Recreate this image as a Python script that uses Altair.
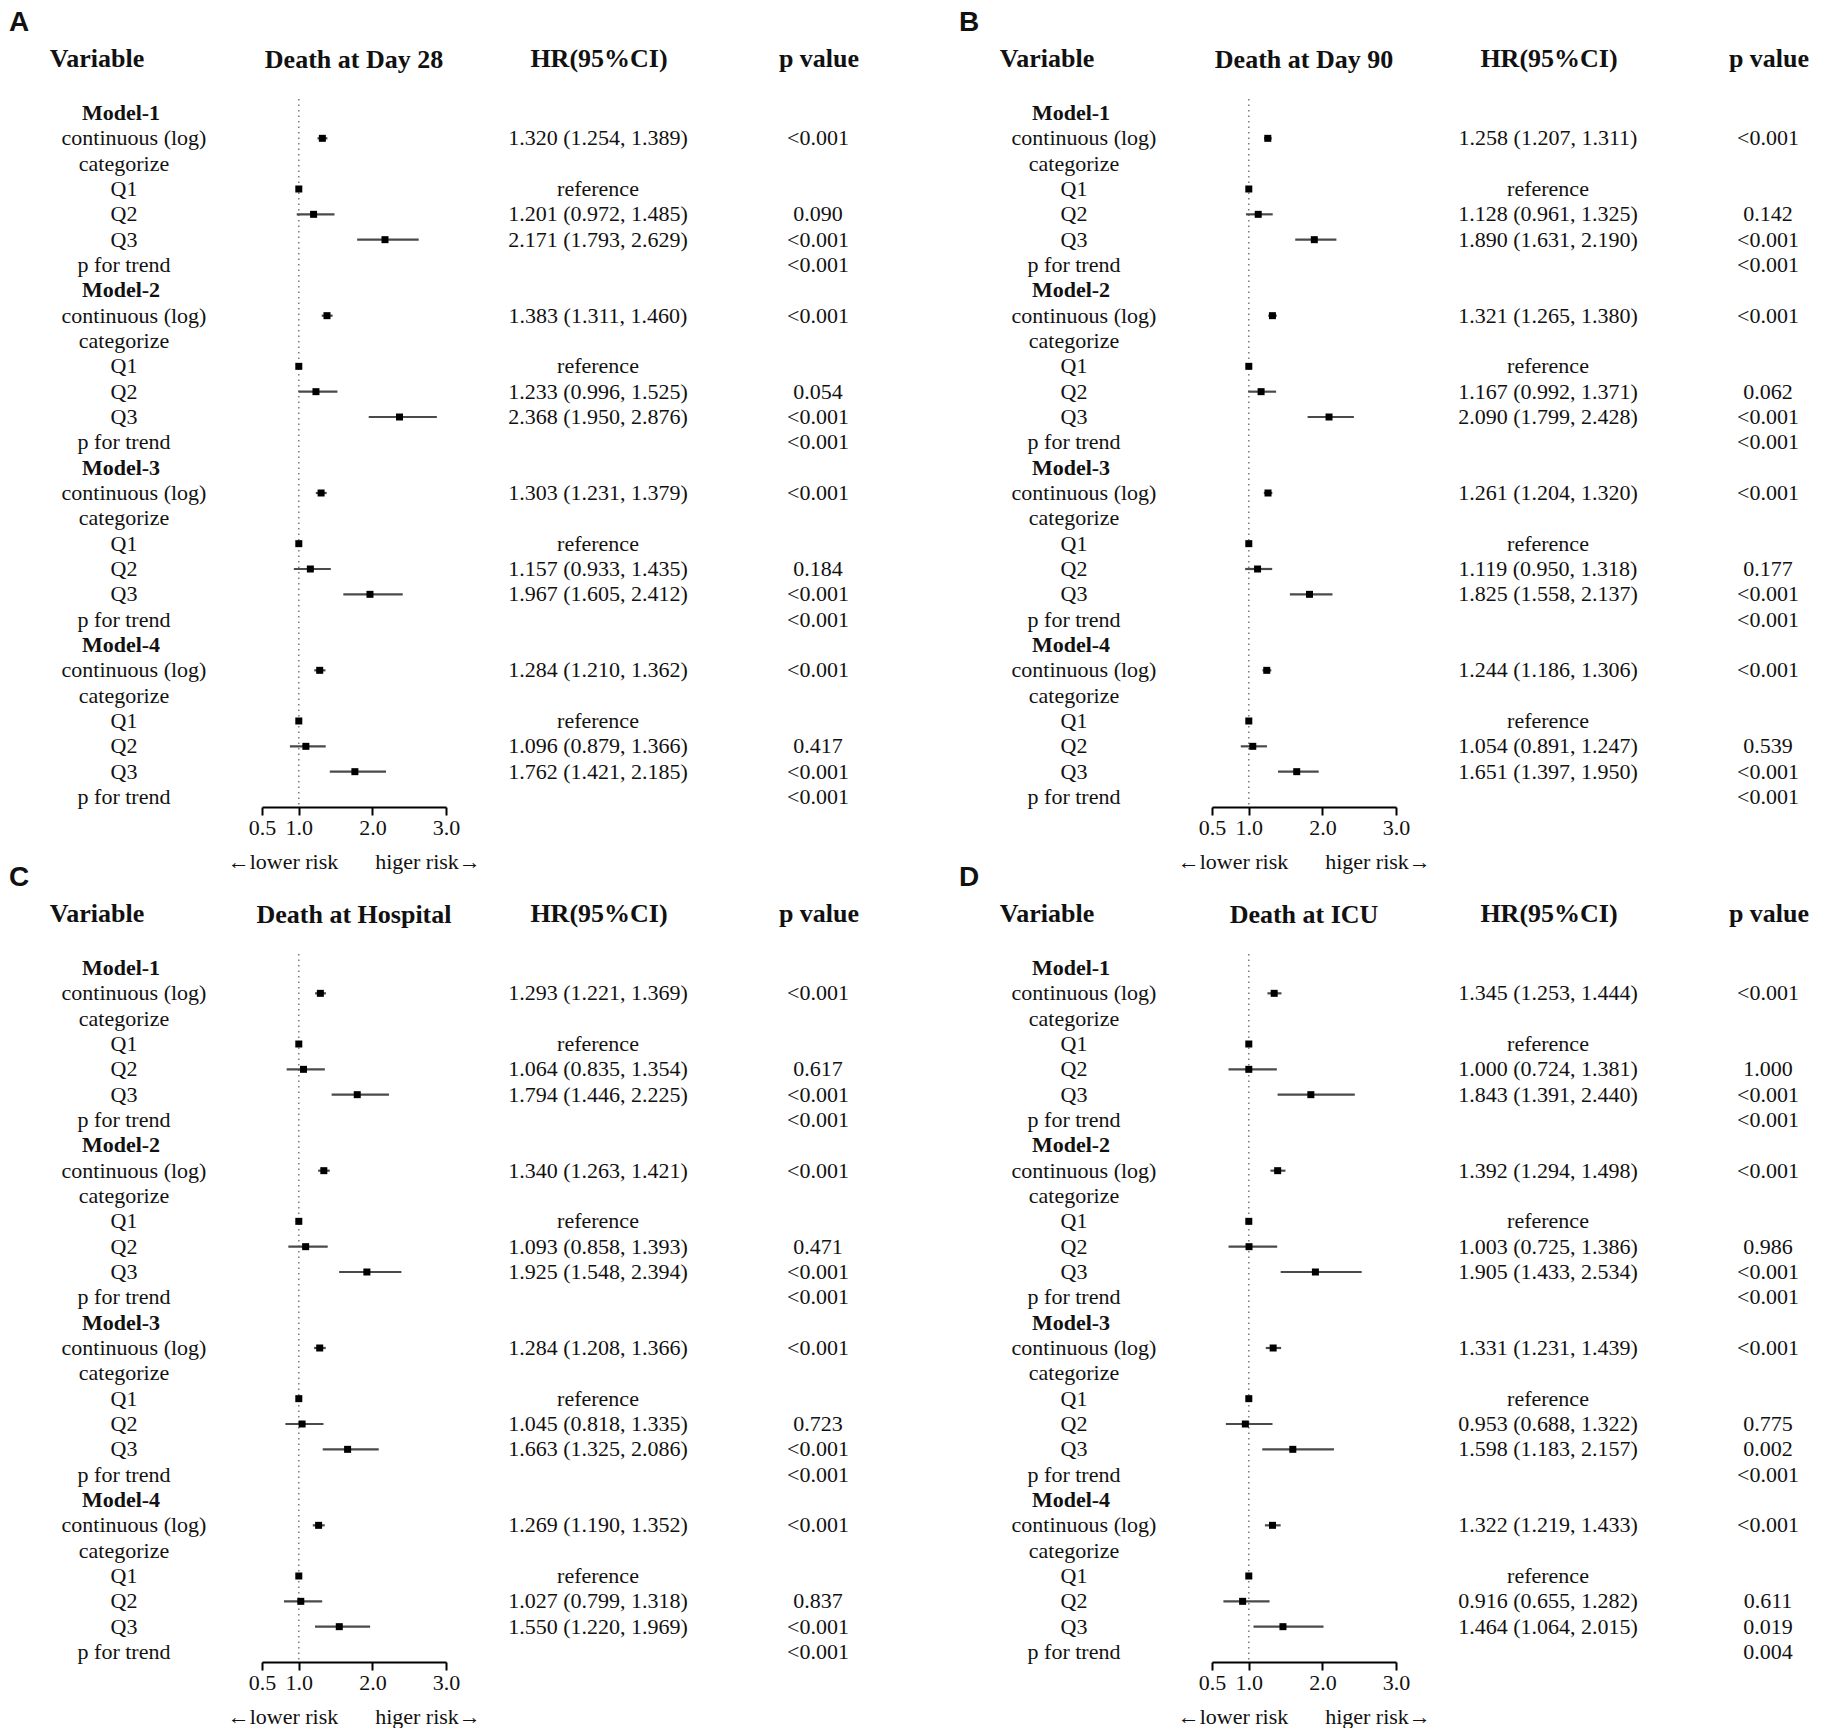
import altair as alt
import pandas as pd

# ---------------- data ----------------
# order per model: continuous (log), Q2, Q3
A_HR = [1.320, 1.201, 2.171, 1.383, 1.233, 2.368, 1.303, 1.157, 1.967, 1.284, 1.096, 1.762]
A_LO = [1.254, 0.972, 1.793, 1.311, 0.996, 1.950, 1.231, 0.933, 1.605, 1.210, 0.879, 1.421]
A_HI = [1.389, 1.485, 2.629, 1.460, 1.525, 2.876, 1.379, 1.435, 2.412, 1.362, 1.366, 2.185]
A_P = ["<0.001", "0.090", "<0.001", "<0.001", "0.054", "<0.001",
       "<0.001", "0.184", "<0.001", "<0.001", "0.417", "<0.001"]
A_TREND = ["<0.001", "<0.001", "<0.001", "<0.001"]

B_HR = [1.258, 1.128, 1.890, 1.321, 1.167, 2.090, 1.261, 1.119, 1.825, 1.244, 1.054, 1.651]
B_LO = [1.207, 0.961, 1.631, 1.265, 0.992, 1.799, 1.204, 0.950, 1.558, 1.186, 0.891, 1.397]
B_HI = [1.311, 1.325, 2.190, 1.380, 1.371, 2.428, 1.320, 1.318, 2.137, 1.306, 1.247, 1.950]
B_P = ["<0.001", "0.142", "<0.001", "<0.001", "0.062", "<0.001",
       "<0.001", "0.177", "<0.001", "<0.001", "0.539", "<0.001"]
B_TREND = ["<0.001", "<0.001", "<0.001", "<0.001"]

C_HR = [1.293, 1.064, 1.794, 1.340, 1.093, 1.925, 1.284, 1.045, 1.663, 1.269, 1.027, 1.550]
C_LO = [1.221, 0.835, 1.446, 1.263, 0.858, 1.548, 1.208, 0.818, 1.325, 1.190, 0.799, 1.220]
C_HI = [1.369, 1.354, 2.225, 1.421, 1.393, 2.394, 1.366, 1.335, 2.086, 1.352, 1.318, 1.969]
C_P = ["<0.001", "0.617", "<0.001", "<0.001", "0.471", "<0.001",
       "<0.001", "0.723", "<0.001", "<0.001", "0.837", "<0.001"]
C_TREND = ["<0.001", "<0.001", "<0.001", "<0.001"]

D_HR = [1.345, 1.000, 1.843, 1.392, 1.003, 1.905, 1.331, 0.953, 1.598, 1.322, 0.916, 1.464]
D_LO = [1.253, 0.724, 1.391, 1.294, 0.725, 1.433, 1.231, 0.688, 1.183, 1.219, 0.655, 1.064]
D_HI = [1.444, 1.381, 2.440, 1.498, 1.386, 2.534, 1.439, 1.322, 2.157, 1.433, 1.282, 2.015]
D_P = ["<0.001", "1.000", "<0.001", "<0.001", "0.986", "<0.001",
       "<0.001", "0.775", "0.002", "<0.001", "0.611", "0.019"]
D_TREND = ["<0.001", "<0.001", "<0.001", "0.004"]

TITLES = ["Death at Day 28", "Death at Day 90", "Death at Hospital", "Death at ICU"]
LETTERS = ["A", "B", "C", "D"]
HEADERS = ["Variable", "HR(95%CI)", "p value"]
TICKS = [0.5, 1.0, 2.0, 3.0]
N_MODELS = 4

SERIF = "Liberation Serif"
SANS = "Liberation Sans"
INK = "#111111"


def build_rows(hr, lo, hi, p, trend):
    rows = []
    for m in range(N_MODELS):
        b = 7 * m
        k = 3 * m
        rows.append(dict(row=b, label=f"Model-{m + 1}", kind="model", hrtxt="", p=""))
        rows.append(dict(row=b + 1, label="continuous (log)", kind="cont", hr=hr[k], lo=lo[k], hi=hi[k],
                         hrtxt=f"{hr[k]:.3f} ({lo[k]:.3f}, {hi[k]:.3f})", p=p[k]))
        rows.append(dict(row=b + 2, label="categorize", kind="other", hrtxt="", p=""))
        rows.append(dict(row=b + 3, label="Q1", kind="other", hr=1.0, hrtxt="reference", p=""))
        for j, q in ((1, "Q2"), (2, "Q3")):
            rows.append(dict(row=b + 3 + j, label=q, kind="other", hr=hr[k + j], lo=lo[k + j], hi=hi[k + j],
                             hrtxt=f"{hr[k + j]:.3f} ({lo[k + j]:.3f}, {hi[k + j]:.3f})", p=p[k + j]))
        rows.append(dict(row=b + 6, label="p for trend", kind="other", hrtxt="", p=trend[m]))
    return pd.DataFrame(rows)


X_SCALE = alt.Scale(domain=[0.5, 3.0], range=[254, 438], nice=False, zero=False)
Y_SCALE = alt.Scale(domain=[0, 27], range=[105, 789], nice=False, zero=False)
X_AXIS = alt.Axis(values=TICKS, format=".1f", title=None, grid=False, orient="bottom",
                  domainColor="black", domainWidth=2, tickColor="black", tickWidth=2, tickSize=8,
                  labelFont=SERIF, labelFontSize=22, labelColor=INK, labelPadding=2,
                  labelFlush=False, labelOverlap=False)
Y_ENC = alt.Y("row:Q", scale=Y_SCALE, axis=None)

PANEL_W = 860
PANEL_H = 799


def one_text(txt, x, y, size, bold=False, font=SERIF, align="center", baseline="alphabetic"):
    return alt.Chart(alt.Data(values=[{"t": txt}])).mark_text(
        font=font, fontSize=size, fontWeight="bold" if bold else "normal", color=INK,
        align=align, baseline=baseline
    ).encode(x=alt.value(x), y=alt.value(y), text="t:N")


def panel(letter, title, hr, lo, hi, p, trend):
    df = build_rows(hr, lo, hi, p, trend)
    base = alt.Chart(df)

    ref = alt.Chart(pd.DataFrame({"ref": [1.0]})).mark_rule(
        color="#7a7a7a", strokeWidth=1.5, strokeDash=[1.5, 4]
    ).encode(x=alt.X("ref:Q", scale=X_SCALE, axis=X_AXIS), y=alt.value(91), y2=alt.value(PANEL_H))

    ci = base.transform_filter("isValid(datum.lo)").mark_rule(color="#4a4a4a", strokeWidth=2.2).encode(
        x=alt.X("lo:Q", scale=X_SCALE, axis=X_AXIS), x2="hi:Q", y=Y_ENC)

    pts = base.transform_filter("isValid(datum.hr)").mark_square(size=49, color="black", opacity=1).encode(
        x=alt.X("hr:Q", scale=X_SCALE, axis=X_AXIS), y=Y_ENC)

    txt_kw = dict(font=SERIF, fontSize=22, color=INK, align="center", baseline="middle")
    lab_model = base.transform_filter("datum.kind == 'model'").mark_text(fontWeight="bold", **txt_kw).encode(
        x=alt.value(113), y=Y_ENC, text="label:N")
    lab_cont = base.transform_filter("datum.kind == 'cont'").mark_text(**txt_kw).encode(
        x=alt.value(126), y=Y_ENC, text="label:N")
    lab_other = base.transform_filter("datum.kind == 'other'").mark_text(**txt_kw).encode(
        x=alt.value(116), y=Y_ENC, text="label:N")
    hr_col = base.mark_text(**txt_kw).encode(x=alt.value(590), y=Y_ENC, text="hrtxt:N")
    p_col = base.mark_text(**txt_kw).encode(x=alt.value(810), y=Y_ENC, text="p:N")

    layers = [
        ref, ci, pts, lab_model, lab_cont, lab_other, hr_col, p_col,
        one_text(letter, 1, 1, 28, bold=True, font=SANS, align="left", baseline="top"),
        one_text(HEADERS[0], 89, 59, 26, bold=True),
        one_text(title, 346, 60, 26, bold=True),
        one_text(HEADERS[1], 591, 59, 26, bold=True),
        one_text(HEADERS[2], 811, 59, 26, bold=True),
        one_text("\u2190lower risk", 275, 854, 22, baseline="middle"),
        one_text("higer risk\u2192", 420, 854, 22, baseline="middle"),
    ]
    return alt.layer(*layers).properties(width=PANEL_W, height=PANEL_H)


pA = panel(LETTERS[0], TITLES[0], A_HR, A_LO, A_HI, A_P, A_TREND)
pB = panel(LETTERS[1], TITLES[1], B_HR, B_LO, B_HI, B_P, B_TREND)
pC = panel(LETTERS[2], TITLES[2], C_HR, C_LO, C_HI, C_P, C_TREND)
pD = panel(LETTERS[3], TITLES[3], D_HR, D_LO, D_HI, D_P, D_TREND)

chart = alt.concat(pA, pB, pC, pD, columns=2, spacing={"row": 56, "column": 90}, bounds="flush").properties(
    padding=0, background="white"
).configure_view(stroke=None)

chart.save("out.html", embed_options={"renderer": "svg", "actions": False})
